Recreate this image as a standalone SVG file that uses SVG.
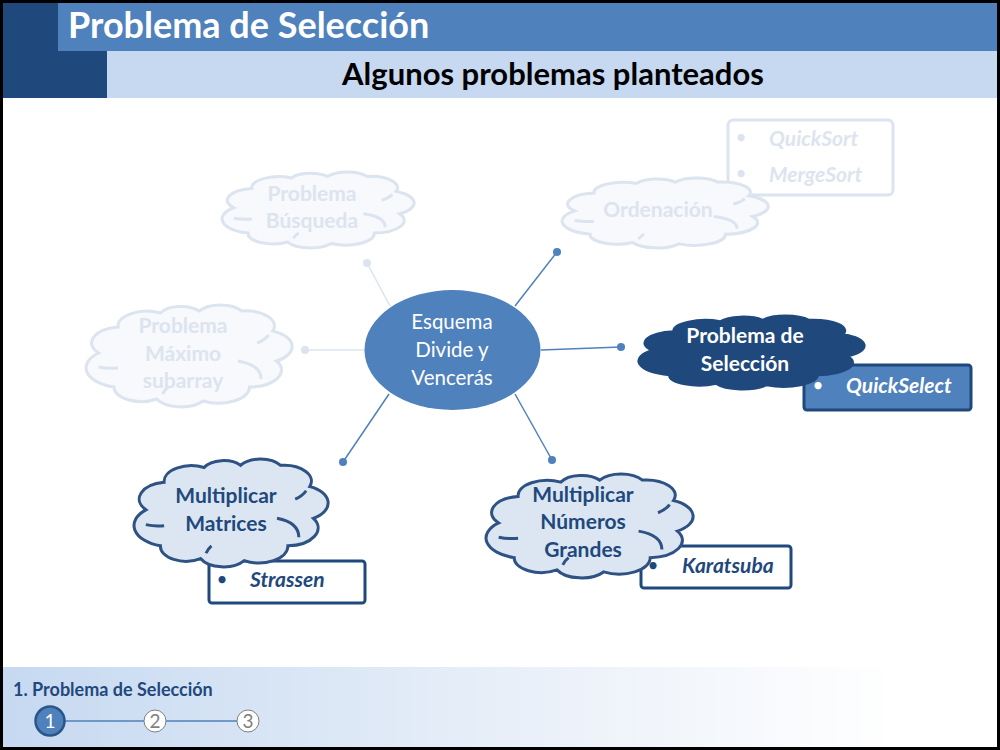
<svg xmlns="http://www.w3.org/2000/svg" xmlns:xlink="http://www.w3.org/1999/xlink" width="1000" height="750" viewBox="0 0 1000 750">
<style>
text{font-family:Lato,"Open Sans","Liberation Sans",sans-serif}
.b{font-weight:bold}
.bi{font-weight:bold;font-style:italic}
.fadeC{fill:#F7F9FC;stroke:#DCE4EF;stroke-width:3}
.fadeT{fill:#DCE4EF}
.fadeL{stroke:#DCE4EF;stroke-width:1.5;fill:none}
.lightC{fill:#DCE6F2;stroke:#2E5283;stroke-width:3}
.darkC{fill:#1F497D;stroke:#1F497D;stroke-width:3}
.conn{stroke:#4F81BD;stroke-width:1.5;fill:none}
.dot{fill:#4F81BD}
.fdot{fill:#DCE4EF}
.navy{fill:#1F497D}
</style>
<defs>
<path id="cloud" vector-effect="non-scaling-stroke" d="M4,48 A16,16 0 0 1 14,22 A15,15 0 0 1 36,8 A12,12 0 0 1 56,6 A13,13 0 0 1 78,6 A15,15 0 0 1 94,26 A17,17 0 0 1 96,56 A17,17 0 0 1 82,82 A16,16 0 0 1 58,96 A14,14 0 0 1 34,94 A14,14 0 0 1 12,82 A20,20 0 0 1 4,48 Z"/>
<path id="crease" vector-effect="non-scaling-stroke" fill="none" d="M4,62 Q9,64 14,63 M92,30 Q90,35 86,38 M76,56 Q88,60 88,74 M37,89 Q38,85 40,82"/>
<linearGradient id="foot" x1="0" y1="0" x2="1" y2="0">
<stop offset="0" stop-color="#C6D9F1"/>
<stop offset="0.6" stop-color="#EEF3FA"/>
<stop offset="0.9" stop-color="#FFFFFF"/>
</linearGradient>
</defs>
<rect x="0" y="0" width="1000" height="750" fill="#000"/>
<rect x="3" y="3" width="994" height="744" fill="#FFFFFF"/>

<g id="header">
<rect x="3" y="3" width="104" height="95" fill="#1F497D"/>
<rect x="58" y="3" width="939" height="48" fill="#4F81BD"/>
<rect x="107" y="51" width="890" height="47" fill="#C6D9F1"/>
<text x="68" y="38" font-size="36" class="b" fill="#FFFFFF">Problema de Selección</text>
<text x="553" y="85" font-size="31" class="b" fill="#000000" text-anchor="middle">Algunos problemas planteados</text>
</g>

<g id="footer">
<rect x="3" y="667" width="994" height="80" fill="url(#foot)"/>
<text x="13" y="696" font-size="18" class="b" fill="#1F497D">1. Problema de Selección</text>
<line x1="64" y1="721" x2="144" y2="721" stroke="#4F81BD" stroke-width="1.5"/>
<line x1="166" y1="721" x2="237" y2="721" stroke="#4F81BD" stroke-width="1.5"/>
<circle cx="50" cy="721" r="14.5" fill="#4F81BD" stroke="#2C5687" stroke-width="2.5"/>
<circle cx="155" cy="721" r="11" fill="#FFFFFF" stroke="#7F7F7F" stroke-width="1"/>
<circle cx="248" cy="721" r="11" fill="#FFFFFF" stroke="#7F7F7F" stroke-width="1"/>
<text x="50" y="728" font-size="19" fill="#FFFFFF" text-anchor="middle">1</text>
<text x="155" y="728" font-size="19" fill="#7F7F7F" text-anchor="middle">2</text>
<text x="248" y="728" font-size="19" fill="#7F7F7F" text-anchor="middle">3</text>
</g>

<g id="connectors">
<line class="fadeL" x1="390" y1="306" x2="367" y2="263"/>
<line class="fadeL" x1="365" y1="350" x2="305" y2="350"/>
<circle class="fdot" cx="367" cy="263" r="4"/>
<circle class="fdot" cx="305" cy="350" r="4"/>
<line class="conn" x1="515" y1="306" x2="557" y2="252"/>
<line class="conn" x1="541" y1="350" x2="621" y2="347"/>
<line class="conn" x1="515" y1="394" x2="552" y2="460"/>
<line class="conn" x1="389" y1="394" x2="343" y2="462"/>
<circle class="dot" cx="557" cy="252" r="4"/>
<circle class="dot" cx="621" cy="347" r="4"/>
<circle class="dot" cx="552" cy="460" r="4"/>
<circle class="dot" cx="343" cy="462" r="4"/>
</g>

<g id="center">
<ellipse cx="452.5" cy="350" rx="88" ry="60" fill="#4F81BD"/>
<text x="452" y="329" font-size="20.5" fill="#FFFFFF" text-anchor="middle">Esquema</text>
<text x="452" y="357" font-size="20.5" fill="#FFFFFF" text-anchor="middle">Divide y</text>
<text x="452" y="385" font-size="20.5" fill="#FFFFFF" text-anchor="middle">Vencerás</text>
</g>

<g id="busqueda">
<use xlink:href="#cloud" class="fadeC" transform="translate(226.6,172) scale(1.802,0.745)"/>
<use xlink:href="#crease" stroke="#DCE4EF" stroke-width="3" transform="translate(226.6,172) scale(1.802,0.745)"/>
<text x="312" y="201" font-size="21" class="b fadeT" text-anchor="middle">Problema</text>
<text x="312" y="228" font-size="21" class="b fadeT" text-anchor="middle">Búsqueda</text>
</g>

<g id="ordenacion">
<rect x="728" y="120" width="165" height="75" rx="5" fill="#FFFFFF" stroke="#DCE4EF" stroke-width="3"/>
<text x="741" y="144" font-size="19" class="fadeT" text-anchor="middle">•</text>
<text x="741" y="180" font-size="19" class="fadeT" text-anchor="middle">•</text>
<text x="769" y="146" font-size="21" class="bi fadeT">QuickSort</text>
<text x="769" y="182" font-size="21" class="bi fadeT">MergeSort</text>
<use xlink:href="#cloud" class="fadeC" transform="translate(566.9,178) scale(1.934,0.686)"/>
<use xlink:href="#crease" stroke="#DCE4EF" stroke-width="3" transform="translate(566.9,178) scale(1.934,0.686)"/>
<text x="658" y="217" font-size="21" class="b fadeT" text-anchor="middle">Ordenación</text>
</g>

<g id="maximo">
<use xlink:href="#cloud" class="fadeC" transform="translate(90.9,305) scale(1.934,1.0)"/>
<use xlink:href="#crease" stroke="#DCE4EF" stroke-width="3" transform="translate(90.9,305) scale(1.934,1.0)"/>
<text x="183" y="333" font-size="21" class="b fadeT" text-anchor="middle">Problema</text>
<text x="183" y="361" font-size="21" class="b fadeT" text-anchor="middle">Máximo</text>
<text x="183" y="388" font-size="21" class="b fadeT" text-anchor="middle">subarray</text>
</g>

<g id="seleccion">
<rect x="804" y="365" width="167" height="45" rx="3" fill="#4F81BD" stroke="#1F497D" stroke-width="3"/>
<text x="818" y="392" font-size="19" fill="#FFFFFF" text-anchor="middle">•</text>
<text x="846" y="393" font-size="21" class="bi" fill="#FFFFFF">QuickSelect</text>
<use xlink:href="#cloud" class="darkC" transform="translate(644.2,316) scale(2.113,0.716)"/>
<text x="745" y="343" font-size="21" class="b" fill="#FFFFFF" text-anchor="middle">Problema de</text>
<text x="745" y="371" font-size="21" class="b" fill="#FFFFFF" text-anchor="middle">Selección</text>
</g>

<g id="matrices">
<rect x="209" y="561" width="156" height="42" rx="3" fill="#FFFFFF" stroke="#1F497D" stroke-width="3"/>
<text x="222" y="586" font-size="19" class="navy" text-anchor="middle">•</text>
<text x="250" y="587" font-size="21" class="bi navy">Strassen</text>
<use xlink:href="#cloud" class="lightC" transform="translate(138.6,459) scale(1.821,1.059)"/>
<use xlink:href="#crease" stroke="#2E5283" stroke-width="3" transform="translate(138.6,459) scale(1.821,1.059)"/>
<text x="226" y="503" font-size="21" class="b navy" text-anchor="middle">Multiplicar</text>
<text x="226" y="531" font-size="21" class="b navy" text-anchor="middle">Matrices</text>
</g>

<g id="numeros">
<rect x="641" y="546" width="150" height="42" rx="3" fill="#FFFFFF" stroke="#1F497D" stroke-width="3"/>
<text x="653" y="572" font-size="19" class="navy" text-anchor="middle">•</text>
<text x="682" y="573" font-size="21" class="bi navy">Karatsuba</text>
<use xlink:href="#cloud" class="lightC" transform="translate(490.9,474) scale(1.943,1.02)"/>
<use xlink:href="#crease" stroke="#2E5283" stroke-width="3" transform="translate(490.9,474) scale(1.943,1.02)"/>
<text x="583" y="502" font-size="21" class="b navy" text-anchor="middle">Multiplicar</text>
<text x="583" y="529" font-size="21" class="b navy" text-anchor="middle">Números</text>
<text x="583" y="557" font-size="21" class="b navy" text-anchor="middle">Grandes</text>
</g>
</svg>
